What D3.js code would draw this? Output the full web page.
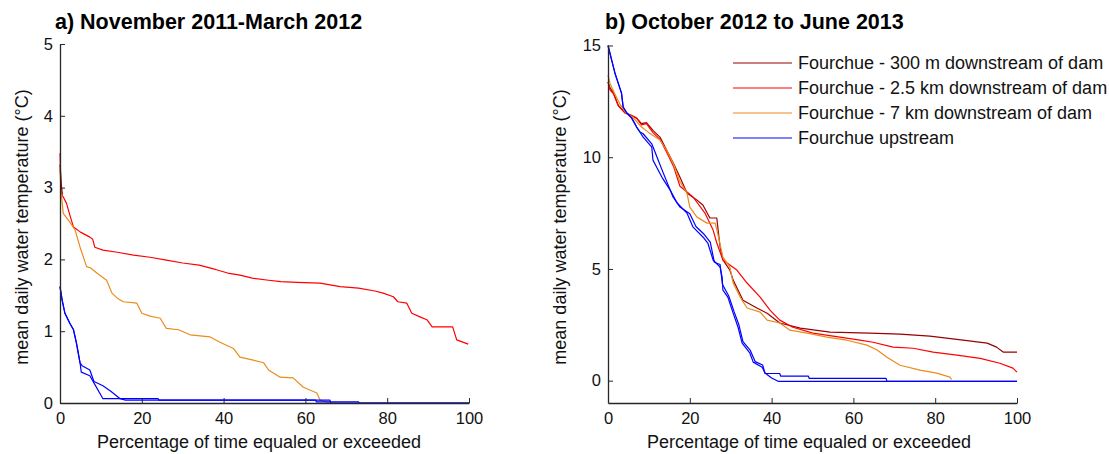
<!DOCTYPE html>
<html>
<head>
<meta charset="utf-8">
<script src="https://cdn.jsdelivr.net/npm/d3@7"></script>
<style>
  html, body { margin: 0; padding: 0; background: #fff; }
  svg { display: block; font-family: "Liberation Sans", Arial, sans-serif; }
</style>
</head>
<body>
<svg id="chart" width="1109" height="454"></svg>
<script>
// ---------- Data ----------
const seriesNames = [
  "Fourchue - 300 m downstream of dam",
  "Fourchue - 2.5 km downstream of dam",
  "Fourchue - 7 km downstream of dam",
  "Fourchue upstream"
];
const seriesColors = ["#990000", "#ff0000", "#ea8c1c", "#0000ff"];

const panelTitles = ["a) November 2011-March 2012", "b) October 2012 to June 2013"];
const xTicks = [0, 20, 40, 60, 80, 100];
const yTicksA = [0, 1, 2, 3, 4, 5];
const yTicksB = [0, 5, 10, 15];
const xLabel = "Percentage of time equaled or exceeded";
const yLabel = "mean daily water temperature (°C)";

// Panel a) November 2011 - March 2012
const aDarkP = [0, 0.3, 0.6];
const aDarkT = [3.32, 3.05, 2.9];

const aRedP = [0, 0.3, 0.8, 1.6, 2.5, 3.3, 5, 7.3, 8, 8.5, 10.5, 14, 18, 22, 26, 30, 34, 38, 41, 44, 47, 51, 54, 58, 63.6, 68.5, 73, 77, 79, 81.5, 82.6, 84.8, 86, 88, 89.7, 91, 96, 97, 99.8];
const aRedT = [3.48, 2.9, 2.87, 2.78, 2.6, 2.45, 2.38, 2.31, 2.28, 2.17, 2.13, 2.1, 2.06, 2.03, 1.99, 1.95, 1.92, 1.86, 1.81, 1.78, 1.74, 1.71, 1.69, 1.68, 1.67, 1.62, 1.6, 1.56, 1.53, 1.48, 1.41, 1.39, 1.25, 1.2, 1.16, 1.06, 1.06, 0.88, 0.82];

const aOrangeP = [0, 0.3, 0.8, 2.4, 3.7, 4.9, 6.5, 7.5, 9, 11.4, 12.7, 14, 15.5, 18.8, 20, 22, 24.5, 26, 29, 31.8, 36.7, 39, 42.4, 44, 47, 49.8, 51, 53.8, 57, 59.5, 62.8, 63.6, 65.3, 66];
const aOrangeT = [3.25, 2.92, 2.64, 2.52, 2.41, 2.17, 1.9, 1.88, 1.81, 1.71, 1.53, 1.46, 1.41, 1.39, 1.25, 1.21, 1.18, 1.04, 1.02, 0.95, 0.92, 0.85, 0.76, 0.64, 0.6, 0.56, 0.46, 0.36, 0.35, 0.22, 0.14, 0.04, 0.01, 0];

const aBlue1P = [0, 0.5, 1.2, 2.4, 3.3, 4, 4.9, 5.2, 7.3, 8.5, 10.5, 24, 24.2, 62.5, 62.7, 73, 73.2, 100];
const aBlue1T = [1.62, 1.44, 1.25, 1.11, 1.02, 0.84, 0.56, 0.43, 0.38, 0.26, 0.06, 0.06, 0.04, 0.04, 0.015, 0.015, 0, 0];
const aBlue2P = [0, 0.5, 1.2, 2.4, 3.3, 4, 4.9, 5.4, 7.3, 8.3, 10.5, 12.5, 14.7, 16, 66, 66.2, 100];
const aBlue2T = [1.62, 1.44, 1.25, 1.11, 1.02, 0.84, 0.56, 0.52, 0.46, 0.3, 0.24, 0.16, 0.06, 0.04, 0.04, 0, 0];

// Panel b) October 2012 - June 2013
const bDarkP = [0, 0.5, 1.3, 2.5, 4.2, 5.4, 7, 8.2, 9.4, 11, 12.7, 14.4, 16, 17.6, 19.3, 21.7, 23.2, 24.9, 26.6, 27.4, 28.1, 29.8, 30.6, 33, 36.4, 38.9, 42, 47, 54.3, 64, 71.4, 78.7, 86.8, 92.7, 95, 96.6, 100];
const bDarkT = [13.37, 13.1, 12.9, 12.33, 11.98, 11.9, 11.75, 11.5, 11.55, 11.2, 10.9, 10.3, 9.73, 9.1, 8.4, 8.09, 7.86, 7.28, 7.28, 5.98, 5.4, 4.95, 4.5, 3.6, 3.25, 3.02, 2.58, 2.35, 2.17, 2.13, 2.08, 1.99, 1.81, 1.68, 1.5, 1.28, 1.28];

const bRedP = [0, 0.5, 1.3, 2.5, 4.2, 5.4, 7, 8.2, 9.4, 11, 12.7, 14.4, 16, 17.6, 20.8, 23.7, 25.7, 26.6, 28.1, 31.5, 34, 37.2, 39.6, 42, 45.2, 50.1, 56.7, 61.6, 64.8, 69.7, 74.6, 79.5, 85.3, 91, 95.8, 99, 100];
const bRedT = [13.37, 13.0, 12.85, 12.3, 11.98, 11.9, 11.75, 11.45, 11.5, 11.1, 10.8, 10.2, 9.6, 8.7, 8.22, 7.5, 6.74, 6.16, 5.4, 4.95, 4.37, 3.74, 3.16, 2.71, 2.39, 2.13, 1.95, 1.81, 1.72, 1.5, 1.45, 1.28, 1.14, 1.0, 0.78, 0.56, 0.38];

const bOrangeP = [0, 0.5, 1.5, 3, 4.5, 6, 8.2, 10, 12.7, 14.4, 16, 17.6, 19.3, 20, 21.7, 24.2, 26.2, 26.8, 28.1, 29.8, 30.6, 32.3, 34, 37.2, 38.9, 42, 44.5, 48.7, 53.5, 58.4, 63.3, 65.8, 68.2, 71.4, 76.3, 80.4, 83.6, 84];
const bOrangeT = [13.68, 13.3, 12.9, 12.35, 11.95, 11.8, 11.35, 11.1, 10.77, 10.3, 9.7, 8.9, 8.4, 7.77, 7.33, 7.05, 7.05, 6.6, 5.53, 5.08, 4.37, 3.74, 3.25, 3.07, 2.71, 2.58, 2.26, 2.13, 1.95, 1.81, 1.59, 1.37, 1.05, 0.69, 0.47, 0.34, 0.16, 0.05];

const bBlue1P = [0, 0.9, 1.7, 2.4, 3.3, 3.7, 4.6, 5.8, 7, 7.8, 8.6, 10.7, 11, 11.9, 13.2, 15.2, 16.9, 19.3, 20.8, 23.2, 24.4, 25.7, 27.4, 27.9, 28.1, 29.3, 30.6, 31.8, 32.8, 34.7, 35.5, 37.7, 38.4, 40, 41.6, 100];
const bBlue1T = [15, 14.35, 13.76, 13.37, 12.87, 12.25, 11.98, 11.75, 11.35, 11.13, 10.9, 10.45, 9.87, 9.55, 9.1, 8.53, 7.95, 7.5, 6.87, 6.43, 6.16, 5.4, 5.08, 4.63, 4.05, 3.74, 3.02, 2.39, 1.68, 1.23, 0.83, 0.6, 0.34, 0.12, -0.03, -0.03];
const bBlue2P = [0, 0.9, 1.7, 2.4, 3.3, 3.7, 4.6, 5.8, 7, 7.8, 8.6, 10.7, 12, 13.5, 15.9, 17.6, 20, 21.5, 23.5, 25, 26, 27.4, 28, 29.5, 30.8, 32, 33, 34.8, 36, 37.8, 38.4, 42, 42.2, 49, 49.2, 68, 68.2, 100];
const bBlue2T = [15, 14.35, 13.76, 13.37, 12.87, 12.25, 11.98, 11.75, 11.35, 11.13, 11.05, 10.6, 10.0, 9.3, 8.22, 7.77, 7.47, 6.9, 6.55, 6.2, 5.3, 5.2, 4.3, 3.8, 3.1, 2.5, 1.75, 1.35, 0.85, 0.7, 0.32, 0.32, 0.2, 0.2, 0.1, 0.1, -0.03, -0.03];

// ---------- Drawing ----------
const svg = d3.select("#chart");
const axisColor = "#262626";

function zip(P, T) { return P.map((p, i) => ({ p: p, t: T[i] })); }

const panels = [
  {
    title: panelTitles[0], titleX: 55,
    xRange: [60, 469], yDomain: [0, 5], yRange: [403, 44], yTicks: yTicksA,
    yLabelX: 22, xLabelX: 259,
    lines: [
      { data: zip(aRedP, aRedT), color: seriesColors[1] },
      { data: zip(aOrangeP, aOrangeT), color: seriesColors[2] },
      { data: zip(aDarkP, aDarkT), color: seriesColors[0] },
      { data: zip(aBlue1P, aBlue1T), color: seriesColors[3] },
      { data: zip(aBlue2P, aBlue2T), color: seriesColors[3] }
    ]
  },
  {
    title: panelTitles[1], titleX: 605,
    xRange: [608, 1017], yDomain: [-1, 15], yRange: [403, 45.5], yTicks: yTicksB,
    yLabelX: 560, xLabelX: 809,
    lines: [
      { data: zip(bDarkP, bDarkT), color: seriesColors[0] },
      { data: zip(bRedP, bRedT), color: seriesColors[1] },
      { data: zip(bOrangeP, bOrangeT), color: seriesColors[2] },
      { data: zip(bBlue1P, bBlue1T), color: seriesColors[3] },
      { data: zip(bBlue2P, bBlue2T), color: seriesColors[3] }
    ]
  }
];

panels.forEach((pn, idx) => {
  const x = d3.scaleLinear().domain([0, 100]).range(pn.xRange);
  const y = d3.scaleLinear().domain(pn.yDomain).range(pn.yRange);
  const g = svg.append("g");

  // curves
  const line = d3.line().x(d => x(d.p)).y(d => y(d.t));
  pn.lines.forEach(l => {
    g.append("path").datum(l.data)
      .attr("d", line)
      .attr("fill", "none")
      .attr("stroke", l.color)
      .attr("stroke-width", 1.2)
      .attr("stroke-linejoin", "round");
  });

  // x axis
  const xa = g.append("g")
    .attr("transform", `translate(0,${pn.yRange[0]})`)
    .call(d3.axisBottom(x).tickValues(xTicks).tickFormat(d3.format("d"))
      .tickSizeInner(-5).tickSizeOuter(0).tickPadding(9));
  // y axis
  const ya = g.append("g")
    .attr("transform", `translate(${pn.xRange[0]},0)`)
    .call(d3.axisLeft(y).tickValues(pn.yTicks).tickFormat(d3.format("d"))
      .tickSizeInner(-5).tickSizeOuter(0).tickPadding(7));
  [xa, ya].forEach(a => {
    a.selectAll("path.domain").attr("stroke", axisColor).attr("stroke-width", 1.3);
    a.selectAll(".tick line").attr("stroke", axisColor).attr("stroke-width", 1);
    a.selectAll(".tick text").attr("fill", "#111").style("font-size", "16.5px")
      .style("font-family", "'Liberation Sans', Arial, sans-serif");
  });

  // title
  g.append("text").attr("x", pn.titleX).attr("y", 29)
    .attr("font-size", 21.5).attr("font-weight", "bold").attr("fill", "#000")
    .text(pn.title);

  // axis labels
  g.append("text").attr("x", pn.xLabelX).attr("y", 448)
    .attr("text-anchor", "middle").attr("font-size", 18).attr("fill", "#111")
    .text(xLabel);
  g.append("text")
    .attr("transform", `translate(${pn.yLabelX},227) rotate(-90)`)
    .attr("text-anchor", "middle").attr("dy", "0.35em")
    .attr("font-size", 18).attr("fill", "#111")
    .text(yLabel);
});

// legend (panel b)
const legend = svg.append("g");
const legendY = d3.scalePoint().domain(seriesNames).range([63, 138]);
seriesNames.forEach((name, i) => {
  const yy = legendY(name);
  legend.append("line").attr("x1", 733).attr("x2", 792).attr("y1", yy).attr("y2", yy)
    .attr("stroke", seriesColors[i]).attr("stroke-width", 1.2);
  legend.append("text").attr("x", 798).attr("y", yy).attr("dy", "0.35em")
    .attr("font-size", 18).attr("fill", "#111").text(name);
});
</script>
</body>
</html>
